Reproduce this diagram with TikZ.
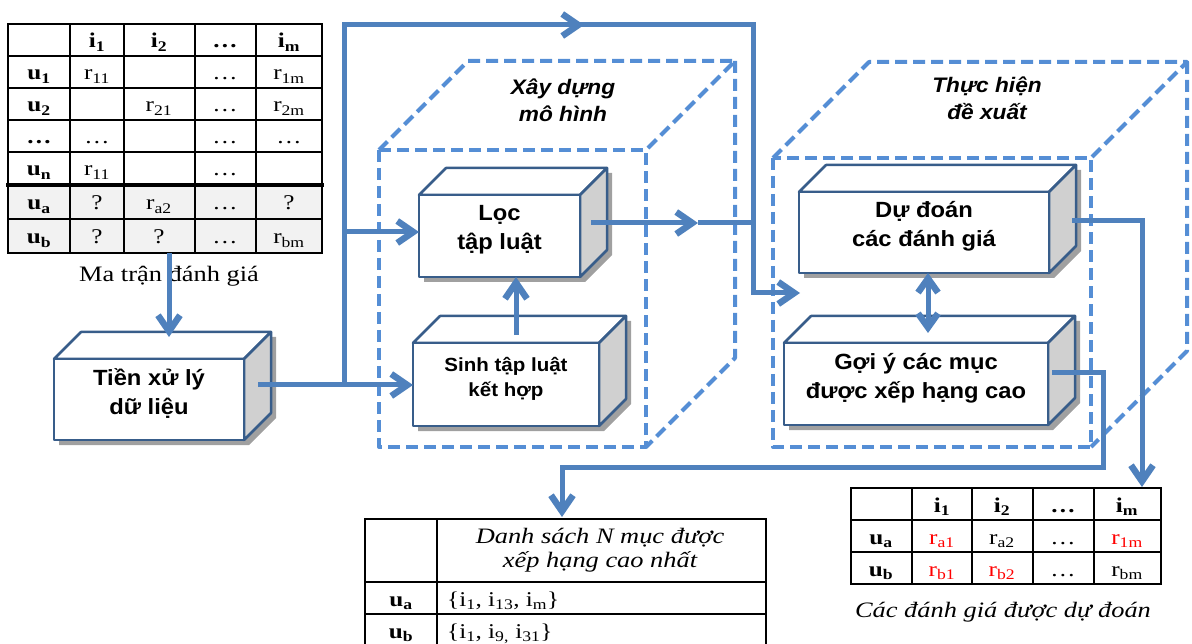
\documentclass[tikz,border=0pt]{standalone}
\usepackage{fontspec}
\setmainfont{Liberation Serif}[FakeStretch=1.2]
\newfontfamily\boxfont{Liberation Sans}[FakeStretch=1.08]
\usetikzlibrary{arrows.meta}

\definecolor{flowblue}{RGB}{79,129,189}
\definecolor{dashblue}{RGB}{85,142,213}
\definecolor{edgeblue}{RGB}{56,93,138}
\definecolor{sidegray}{RGB}{208,208,208}
\definecolor{shadegray}{RGB}{160,160,160}
\definecolor{rowgray}{RGB}{242,242,242}

\newcommand{\bsub}[2]{\textbf{#1\textsubscript{#2}}}
\newcommand{\nsub}[2]{#1\textsubscript{#2}}

% box with top face, side face and shadow: [text style] name, x, y (front top left), width, height, text
\newcommand{\cuboid}[7][]{%
  \begin{scope}[shift={(#3,#4)}]
    \fill[shadegray] (5,#6+5) -- (#5+5,#6+5) -- (#5+32,#6-22) -- (#5+32,-22) -- (32,-22) -- (5,5) -- cycle;
    \filldraw[boxline,fill=white] (0,0) -- (27,-27) -- (#5+27,-27) -- (#5,0) -- cycle;
    \filldraw[boxline,fill=sidegray] (#5,0) -- (#5+27,-27) -- (#5+27,#6-27) -- (#5,#6) -- cycle;
    \node[boxfront,minimum width=#5,minimum height=#6,anchor=north west] (#2) at (0,0) {};
    \node[boxtext,#1] (#2-t) at ([yshift=6pt]#2.center) {#7};
  \end{scope}}

\begin{document}
\begin{tikzpicture}[x=1pt,y=-1pt,
    flow/.style={draw=flowblue,line width=5pt},
    arr/.style={-{Straight Barb[length=16pt,width=22pt,line width=6.5pt]}},
    biarr/.style={{Straight Barb[length=14pt,width=20pt,line width=6.5pt]}-{Straight Barb[length=14pt,width=20pt,line width=6.5pt]}},
    cube/.style={draw=dashblue,line width=4pt,dash pattern=on 12pt off 6pt,line join=round},
    boxline/.style={draw=edgeblue,line width=2.5pt,line join=round},
    boxfront/.style={boxline,fill=white,inner sep=0pt,outer sep=0pt},
    boxtext/.style={font={\boxfont\bfseries\fontsize{22}{29}\selectfont},align=center,inner sep=0pt},
    cubetext/.style={font={\boxfont\bfseries\itshape\fontsize{21}{27}\selectfont},align=center,inner sep=0pt},
    grid/.style={draw=black,line width=2pt,line cap=rect},
    cell/.style={font={\fontsize{21}{25}\selectfont},anchor=base,inner sep=0pt},
    caption/.style={font={\fontsize{22}{26}\selectfont},anchor=base,inner sep=0pt},
  ]
  \useasboundingbox (0,0) rectangle (1192,644);

  % dashed cubes
  \draw[cube] (379,150) rectangle (646,447);
  \draw[cube] (379,150) -- (468,61) -- (735,61) -- (646,150);
  \draw[cube] (735,61) -- (735,358) -- (646,447);
  \node[cubetext] (build) at (563,100) {Xây dựng\\mô hình};

  \draw[cube] (773,158) rectangle (1091,447);
  \draw[cube] (773,158) -- (869,62) -- (1187,62) -- (1091,158);
  \draw[cube] (1187,62) -- (1187,351) -- (1091,447);
  \node[cubetext] (recommend) at (987,98) {Thực hiện\\đề xuất};

  % boxes
  \cuboid{tien}{54}{359}{190}{81}{Tiền xử lý\\dữ liệu}
  \cuboid{loc}{419}{195}{161}{82}{Lọc\\tập luật}
  \cuboid[font={\boxfont\bfseries\fontsize{19}{25}\selectfont}]{sinh}{413}{343}{186}{83}{Sinh tập luật\\kết hợp}
  \cuboid{dudoan}{799}{192}{250}{81}{Dự đoán\\các đánh giá}
  \cuboid{goiy}{784}{343}{264}{82}{Gợi ý các mục\\được xếp hạng cao}

  % rating matrix
  \fill[rowgray] (8,185) rectangle (322,253);
  \foreach \y in {24,56,88,120,152,219,253}
    \draw[grid] (8,\y) -- (322,\y);
  \draw[grid,line width=3.5pt] (8,185) -- (322,185);
  \foreach \x in {8,70,124,195,256,322}
    \draw[grid] (\x,24) -- (\x,253);
  \foreach \y/\ca/\cb/\cc/\cd/\ce [count=\r] in {
      40/{}/\bsub{i}{1}/\bsub{i}{2}/\textbf{\ldots}/\bsub{i}{m},
      72/\bsub{u}{1}/\nsub{r}{11}/{}/\ldots/\nsub{r}{1m},
      104/\bsub{u}{2}/{}/\nsub{r}{21}/\ldots/\nsub{r}{2m},
      136/\textbf{\ldots}/\ldots/{}/\ldots/\ldots,
      168/\bsub{u}{n}/\nsub{r}{11}/{}/\ldots/{},
      202/\bsub{u}{a}/?/\nsub{r}{a2}/\ldots/?,
      236/\bsub{u}{b}/?/?/\ldots/\nsub{r}{bm}} {
    \node[cell] (mat-\r-1) at (39,\y+8) {\ca};
    \node[cell] (mat-\r-2) at (97,\y+8) {\cb};
    \node[cell] (mat-\r-3) at (159,\y+8) {\cc};
    \node[cell] (mat-\r-4) at (225,\y+8) {\cd};
    \node[cell] (mat-\r-5) at (289,\y+8) {\ce};
  }
  \node[caption] (mat-cap) at (169,282) {Ma trận đánh giá};

  % predicted ratings
  \foreach \y in {488,520,552,584}
    \draw[grid] (851,\y) -- (1161,\y);
  \foreach \x in {851,912,972,1033,1094,1161}
    \draw[grid] (\x,488) -- (\x,584);
  \foreach \y/\ca/\cb/\cc/\cd/\ce [count=\r] in {
      504/{}/\bsub{i}{1}/\bsub{i}{2}/\textbf{\ldots}/\bsub{i}{m},
      536/\bsub{u}{a}/\textcolor{red}{\nsub{r}{a1}}/\nsub{r}{a2}/\ldots/\textcolor{red}{\nsub{r}{1m}},
      568/\bsub{u}{b}/\textcolor{red}{\nsub{r}{b1}}/\textcolor{red}{\nsub{r}{b2}}/\ldots/\nsub{r}{bm}} {
    \node[cell] (pred-\r-1) at (881,\y+8) {\ca};
    \node[cell] (pred-\r-2) at (942,\y+8) {\cb};
    \node[cell] (pred-\r-3) at (1002,\y+8) {\cc};
    \node[cell] (pred-\r-4) at (1063,\y+8) {\cd};
    \node[cell] (pred-\r-5) at (1127,\y+8) {\ce};
  }
  \node[caption,font={\itshape\fontsize{22}{26}\selectfont}] (pred-cap) at (1003,617) {Các đánh giá được dự đoán};

  % top-N list
  \foreach \y in {519,582,614,646}
    \draw[grid] (365,\y) -- (766,\y);
  \foreach \x in {365,437,766}
    \draw[grid] (\x,519) -- (\x,646);
  \node[align=center,inner sep=0pt,font={\itshape\fontsize{22}{24}\selectfont}] (top-head) at (600,550) {Danh sách N mục được\\xếp hạng cao nhất};
  \node[cell] (top-ua) at (401,606) {\bsub{u}{a}};
  \node[cell,anchor=base west] (top-ua-list) at (447,606) {\{i\textsubscript{1}, i\textsubscript{13}, i\textsubscript{m}\}};
  \node[cell] (top-ub) at (401,638) {\bsub{u}{b}};
  \node[cell,anchor=base west] (top-ub-list) at (447,638) {\{i\textsubscript{1}, i\textsubscript{9,} i\textsubscript{31}\}};

  % connectors
  \coordinate (mat-out) at (169,253);
  \coordinate (tien-in) at (169,337);
  \coordinate (tien-out) at (258,385);
  \coordinate (split) at (344,385);
  \coordinate (split-loc) at (344,232);
  \coordinate (split-top) at (344,25);
  \coordinate (top-mid) at (584,25);
  \coordinate (top-right) at (753,25);
  \coordinate (down-right) at (753,293);
  \coordinate (enter-right) at (800,293);
  \coordinate (loc-out) at (591,223);
  \coordinate (loc-mid) at (698,223);
  \coordinate (sinh-up) at (516,335);
  \coordinate (pair) at (928,0);
  \coordinate (dudoan-out) at (1072,221);
  \coordinate (dudoan-turn) at (1142,221);
  \coordinate (pred-in) at (1142,487);
  \coordinate (goiy-out) at (1052,373);
  \coordinate (goiy-turn) at (1103,373);
  \coordinate (goiy-low) at (1103,467);
  \coordinate (list-turn) at (562,467);
  \coordinate (list-in) at (562,517);

  \draw[flow,arr] (mat-out) -- (tien-in);
  \draw[flow] (tien-out) -- (split) -- (split-top) -- (top-mid);
  \draw[flow,arr] (split-top) -- (top-mid);
  \draw[flow,arr] (top-mid) -- (top-right) -- (down-right) -- (enter-right);
  \draw[flow,arr] (split) -- (split -| sinh.west);
  \draw[flow,arr] (split-loc) -- (split-loc -| loc.west);
  \draw[flow,arr] (sinh-up) -- (sinh-up |- loc.south);
  \draw[flow,arr] (loc-out) -- (loc-mid);
  \draw[flow] (loc-mid) -- (loc-mid -| top-right);
  \draw[flow,biarr] (pair |- dudoan.south) -- ([yshift=10pt]pair |- goiy.north);
  \draw[flow,arr] (dudoan-out) -- (dudoan-turn) -- (pred-in);
  \draw[flow,arr] (goiy-out) -- (goiy-turn) -- (goiy-low) -- (list-turn) -- (list-in);
\end{tikzpicture}
\end{document}
